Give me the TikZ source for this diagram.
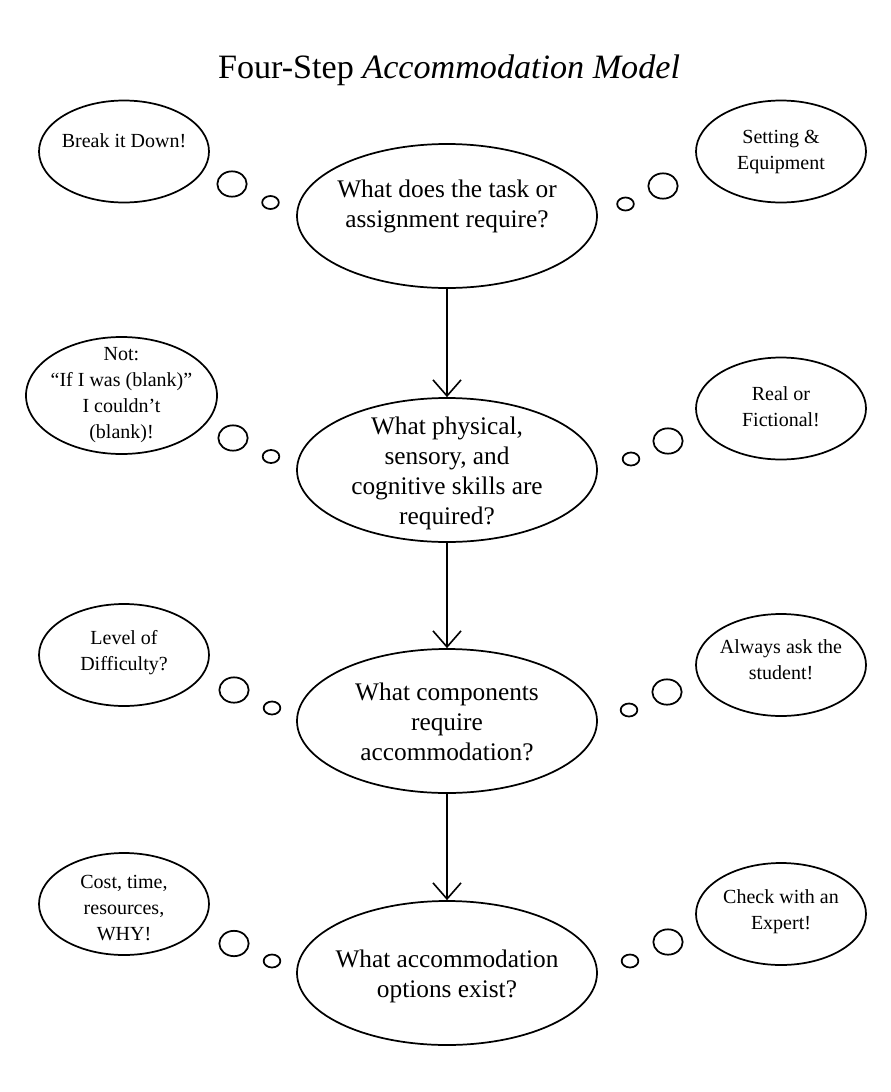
\documentclass[tikz,border=0pt]{standalone}
\usepackage{fontspec}
\setmainfont{Liberation Serif}
\usetikzlibrary{shapes.geometric,arrows.meta}
\begin{document}
\begin{tikzpicture}[x=0.75pt,y=-0.75pt,
  main/.style={draw, ellipse, line width=1.3pt, inner sep=0pt, minimum width=225pt, minimum height=108pt},
  bub/.style={draw, ellipse, line width=1.3pt, inner sep=0pt, minimum width=127.5pt, minimum height=76.5pt},
  bubwide/.style={bub, minimum width=143.25pt, minimum height=87.75pt},
  dotbig/.style={draw, ellipse, line width=1.3pt, inner sep=0pt, minimum width=22pt, minimum height=19pt},
  dotsmall/.style={draw, ellipse, line width=1.3pt, inner sep=0pt, minimum width=12.5pt, minimum height=9.75pt},
  mtxt/.style={align=center, inner sep=0pt, font=\fontsize{19}{22.5}\selectfont},
  btxt/.style={align=center, inner sep=0pt, font=\fontsize{15}{19.3}\selectfont},
  arr/.style={line width=1.2pt, -{Straight Barb[length=12pt,width=21pt]}}
]
\useasboundingbox (0,0) rectangle (891,1092);

% title
\node[inner sep=0pt, font=\fontsize{25.6}{30}\selectfont] (title) at (449,70) {Four-Step \textit{Accommodation Model}};

% main ellipses
\node[main] (e1) at (447,216) {};
\node[main] (e2) at (447,470) {};
\node[main] (e3) at (447,721) {};
\node[main] (e4) at (447,973) {};
\node[mtxt] (t1) at (447,206) {What does the task or\\assignment require?};
\node[mtxt] (t2) at (447,473) {What physical,\\sensory, and\\cognitive skills are\\required?};
\node[mtxt] (t3) at (447,722) {What components\\require\\accommodation?};
\node[mtxt] (t4) at (447,976) {What accommodation\\options exist?};

% arrows
\draw[arr] (e1) -- (e2);
\draw[arr] (e2) -- (e3);
\draw[arr] (e3) -- (e4);

% thought bubbles left
\node[bub] (l1) at (124,151.5) {};
\node[btxt] (l1t) at (124,141) {Break it Down!};
\node[bubwide] (l2) at (121.5,395.5) {};
\node[btxt] (l2t) at (121.5,395) {Not:\\“If I was (blank)”\\I couldn’t\\(blank)!};
\node[bub] (l3) at (124,655) {};
\node[btxt] (l3t) at (124,652.5) {Level of\\Difficulty?};
\node[bub] (l4) at (124,904) {};
\node[btxt] (l4t) at (124,908) {Cost, time,\\resources,\\WHY!};

% thought bubbles right
\node[bub] (r1) at (781,151.5) {};
\node[btxt] (r1t) at (781,152) {Setting \&\\Equipment};
\node[bub] (r2) at (781,408.5) {};
\node[btxt] (r2t) at (781,406.5) {Real or\\Fictional!};
\node[bub] (r3) at (781,665) {};
\node[btxt] (r3t) at (781,659.5) {Always ask the\\student!};
\node[bub] (r4) at (781,914) {};
\node[btxt] (r4t) at (781,911.5) {Check with an\\Expert!};

% small thought dots
\node[dotbig] (lb1) at (232,184) {};
\node[dotsmall] (ls1) at (270.5,202.5) {};
\node[dotsmall] (rs1) at (625.5,204) {};
\node[dotbig] (rb1) at (663,186) {};

\node[dotbig] (lb2) at (233,438) {};
\node[dotsmall] (ls2) at (271,456.5) {};
\node[dotsmall] (rs2) at (631,459) {};
\node[dotbig] (rb2) at (668,441) {};

\node[dotbig] (lb3) at (234,690) {};
\node[dotsmall] (ls3) at (272,708) {};
\node[dotsmall] (rs3) at (629,710) {};
\node[dotbig] (rb3) at (667,692) {};

\node[dotbig] (lb4) at (234,943.5) {};
\node[dotsmall] (ls4) at (272,961) {};
\node[dotsmall] (rs4) at (630,961) {};
\node[dotbig] (rb4) at (668,942) {};
\end{tikzpicture}
\end{document}
